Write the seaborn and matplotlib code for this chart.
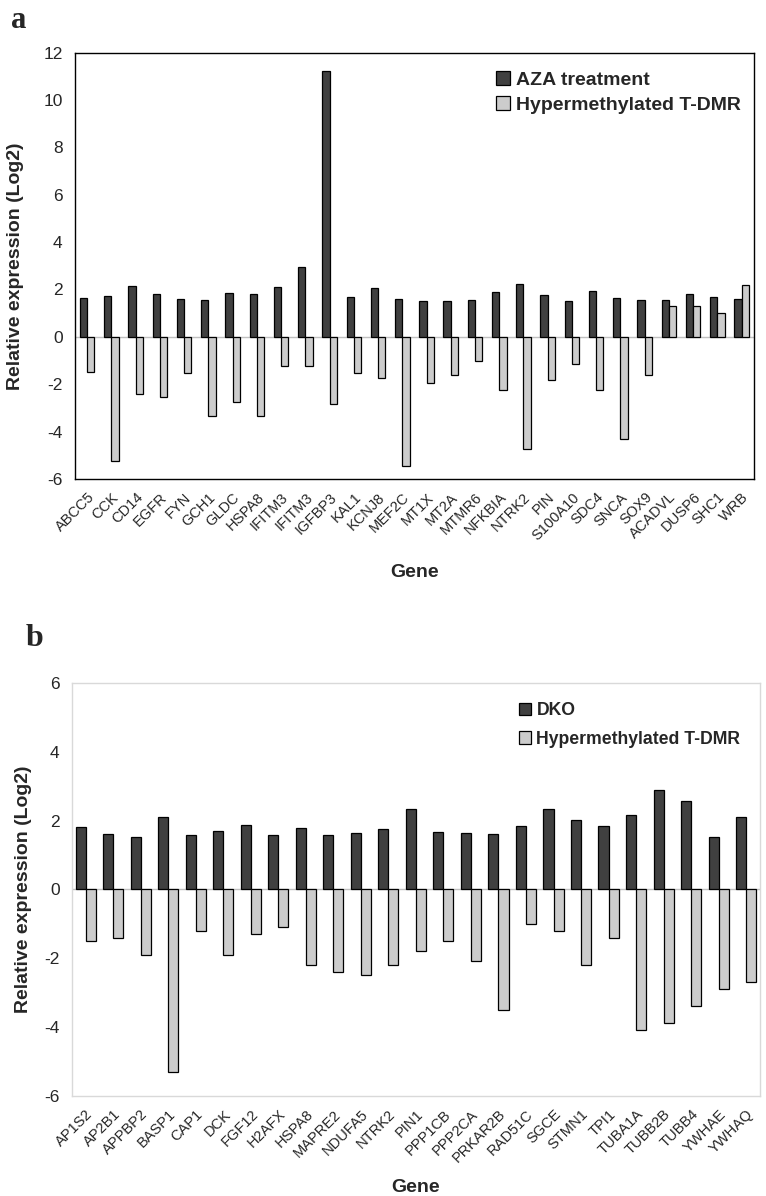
import matplotlib
matplotlib.use("Agg")
import matplotlib.pyplot as plt
import numpy as np
import pandas as pd
import seaborn as sns

# Panel a: AZA treatment vs hypermethylated T-DMR
genes_a = ["ABCC5", "CCK", "CD14", "EGFR", "FYN", "GCH1", "GLDC", "HSPA8",
           "IFITM3", "IFITM3 ", "IGFBP3", "KAL1", "KCNJ8", "MEF2C", "MT1X",
           "MT2A", "MTMR6", "NFKBIA", "NTRK2", "PIN", "S100A10", "SDC4",
           "SNCA", "SOX9", "ACADVL", "DUSP6", "SHC1", "WRB"]
aza = [1.65, 1.73, 2.14, 1.80, 1.58, 1.54, 1.87, 1.83, 2.10, 2.96, 11.24,
       1.70, 2.07, 1.59, 1.51, 1.51, 1.55, 1.90, 2.23, 1.75, 1.51, 1.94,
       1.66, 1.54, 1.54, 1.83, 1.69, 1.58]
tdmr_a = [-1.50, -5.24, -2.42, -2.54, -1.52, -3.34, -2.73, -3.34, -1.23,
          -1.23, -2.83, -1.52, -1.73, -5.45, -1.93, -1.62, -1.01, -2.23,
          -4.72, -1.83, -1.13, -2.23, -4.32, -1.62, 1.30, 1.30, 0.99, 2.18]

# Panel b: DKO vs hypermethylated T-DMR
genes_b = ["AP1S2", "AP2B1", "APPBP2", "BASP1", "CAP1", "DCK", "FGF12",
           "H2AFX", "HSPA8", "MAPRE2", "NDUFA5", "NTRK2", "PIN1", "PPP1CB",
           "PPP2CA", "PRKAR2B", "RAD51C", "SGCE", "STMN1", "TPI1", "TUBA1A",
           "TUBB2B", "TUBB4", "YWHAE", "YWHAQ"]
dko = [1.81, 1.62, 1.52, 2.11, 1.58, 1.71, 1.86, 1.58, 1.80, 1.57, 1.65,
       1.76, 2.34, 1.68, 1.63, 1.62, 1.84, 2.35, 2.02, 1.83, 2.15, 2.90,
       2.56, 1.53, 2.10]
tdmr_b = [-1.50, -1.40, -1.89, -5.30, -1.20, -1.89, -1.29, -1.10, -2.19,
          -2.39, -2.49, -2.19, -1.79, -1.50, -2.09, -3.49, -1.00, -1.20,
          -2.19, -1.40, -4.09, -3.89, -3.39, -2.89, -2.70]

DARK = "#404040"
LIGHT = "#cccccc"


def long_table(genes, first, second, first_name, second_name):
    return pd.DataFrame({
        "gene": list(genes) * 2,
        "value": list(first) + list(second),
        "series": [first_name] * len(genes) + [second_name] * len(genes),
    })


def draw_panel(ax, genes, first, second, first_name, yticks, width,
               frame_color, legend_size, legend_spacing, legend_anchor,
               ylabel_x):
    second_name = "Hypermethylated T-DMR"
    df = long_table(genes, first, second, first_name, second_name)
    ax.axhline(0, color="#c0c0c0", lw=1, zorder=0)
    sns.barplot(data=df, x="gene", y="value", hue="series", order=genes,
                hue_order=[first_name, second_name],
                palette=[DARK, LIGHT], width=width, edgecolor="black",
                linewidth=0.9, saturation=1, errorbar=None, ax=ax)
    ax.set_xlim(-0.5, len(genes) - 0.5)
    ax.set_ylim(yticks[0], yticks[-1])
    ax.set_yticks(yticks)
    ax.set_yticklabels([str(t) for t in yticks], fontsize=12.5)
    ax.set_xticks(range(len(genes)))
    ax.set_xticklabels([g.strip() for g in genes], rotation=45, ha="right",
                       rotation_mode="anchor", fontsize=10.5)
    ax.tick_params(axis="x", length=0, pad=8)
    ax.tick_params(axis="y", length=4, color="#c0c0c0", pad=5)
    for sp in ax.spines.values():
        sp.set_color(frame_color)
        sp.set_linewidth(1)
    ax.set_ylabel("Relative expression (Log2)", fontsize=14,
                  fontweight="bold")
    ax.set_xlabel("Gene", fontsize=14, fontweight="bold")
    ax.yaxis.set_label_coords(ylabel_x, 0.5)
    ax.xaxis.set_label_coords(0.5, -0.2)
    handles, labels = ax.get_legend_handles_labels()
    ax.legend(handles, labels, loc="upper right",
              bbox_to_anchor=legend_anchor, frameon=False,
              handlelength=0.7, handleheight=0.7, handletextpad=0.3,
              labelspacing=legend_spacing, borderaxespad=0,
              prop={"weight": "bold", "size": legend_size})


sns.set_theme(style="white")
plt.rcParams["font.family"] = ["Liberation Sans", "DejaVu Sans"]

fig = plt.figure(figsize=(7.66, 11.96), dpi=100)
ax_a = fig.add_axes([0.098, 0.5995, 0.886, 0.3565])
ax_b = fig.add_axes([0.094, 0.0836, 0.898, 0.3454])

draw_panel(ax_a, genes_a, aza, tdmr_a, "AZA treatment",
           [-6, -4, -2, 0, 2, 4, 6, 8, 10, 12], 0.6, "black", 14, 0.4,
           (0.992, 0.975), -0.075)
draw_panel(ax_b, genes_b, dko, tdmr_b, "DKO",
           [-6, -4, -2, 0, 2, 4, 6], 0.73, "#d9d9d9", 12.7, 0.65,
           (0.982, 0.97), -0.058)

fig.text(0.014, 0.995, "a", fontsize=22, fontweight="bold",
         family="Liberation Serif", va="top")
fig.text(0.034, 0.478, "b", fontsize=23, fontweight="bold",
         family="Liberation Serif", va="top")

fig.savefig("out.png", dpi=100)
